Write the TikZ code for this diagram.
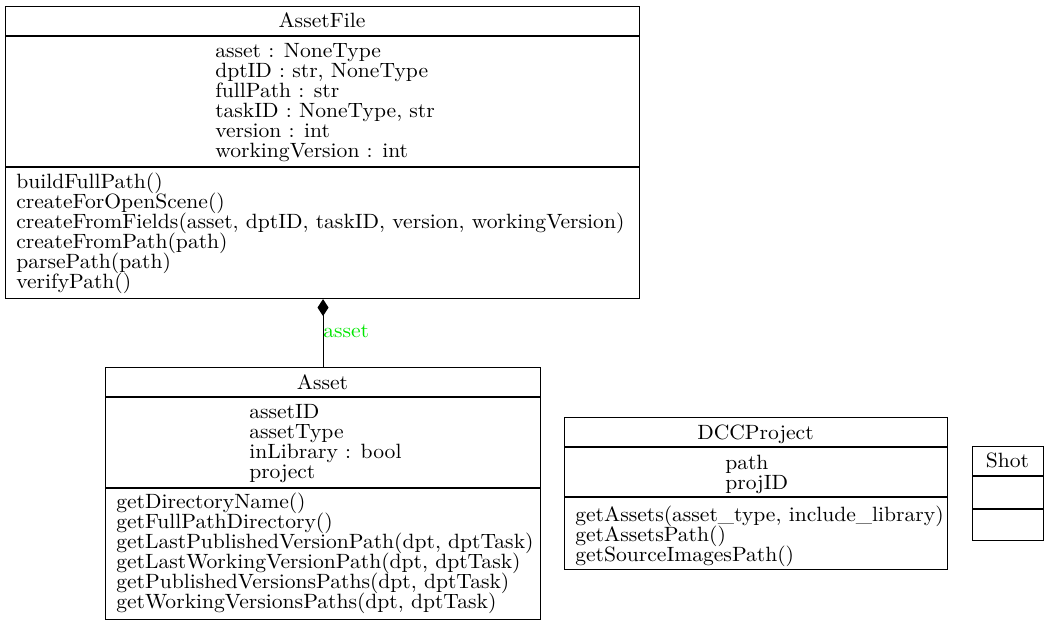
\documentclass[tikz,border=0pt]{standalone}
\usepackage{fontspec}
\usetikzlibrary{arrows.meta}
\newfontfamily\umlserif{lmroman10-regular.otf}[FakeStretch=1.045]
\definecolor{rolegreen}{RGB}{0,230,0}
\newcommand\umlsize{\umlserif\fontsize{15.5}{15}\selectfont\lineskiplimit=-20pt\relax}
\begin{document}
\begin{tikzpicture}[x=0.75pt,y=-0.75pt,
  classbox/.style={draw, line width=0.8pt, inner sep=0pt, anchor=north west},
  divider/.style={line width=0.8pt},
  umlfont/.style={font=\umlsize},
  members/.style={umlfont, inner sep=0pt, anchor=north west, align=left},
  classname/.style={umlfont, inner sep=0pt, anchor=base},
  composition/.style={-{Diamond[length=12.75pt,width=8.25pt]}, line width=0.8pt},
  rolelabel/.style={umlfont, text=rolegreen, inner sep=0pt, anchor=base west},
]
\useasboundingbox (0,0) rectangle (1049,625);

% ---- AssetFile ----
\node[classbox, minimum width=475.5pt, minimum height=219pt] (assetfile) at (5,6) {};
\draw[divider] (assetfile.west |- 0,36) -- (assetfile.east |- 0,36);
\draw[divider] (assetfile.west |- 0,167) -- (assetfile.east |- 0,167);
\node[classname] (assetfile-name) at (322,27) {AssetFile};
\node[members] (assetfile-attrs) at (215,41) {\rule{0pt}{12pt}asset : NoneType\\
dptID : str, NoneType\\
fullPath : str\\
taskID : NoneType, str\\
version : int\\
workingVersion : int};
\node[members] (assetfile-ops) at (16,172) {\rule{0pt}{12pt}buildFullPath()\\
createForOpenScene()\\
createFromFields(asset, dptID, taskID, version, workingVersion)\\
createFromPath(path)\\
parsePath(path)\\
verifyPath()};

% ---- Asset ----
\node[classbox, minimum width=326.25pt, minimum height=189pt] (asset) at (105,367) {};
\draw[divider] (asset.west |- 0,397) -- (asset.east |- 0,397);
\draw[divider] (asset.west |- 0,488) -- (asset.east |- 0,488);
\node[classname] (asset-name) at (322.5,389) {Asset};
\node[members] (asset-attrs) at (249,402) {\rule{0pt}{12pt}assetID\\
assetType\\
inLibrary : bool\\
project};
\node[members] (asset-ops) at (116,492) {\rule{0pt}{12pt}getDirectoryName()\\
getFullPathDirectory()\\
getLastPublishedVersionPath(dpt, dptTask)\\
getLastWorkingVersionPath(dpt, dptTask)\\
getPublishedVersionsPaths(dpt, dptTask)\\
getWorkingVersionsPaths(dpt, dptTask)};

% ---- DCCProject ----
\node[classbox, minimum width=287.25pt, minimum height=114pt] (dccproject) at (564,417) {};
\draw[divider] (dccproject.west |- 0,447) -- (dccproject.east |- 0,447);
\draw[divider] (dccproject.west |- 0,497) -- (dccproject.east |- 0,497);
\node[classname] (dccproject-name) at (755.5,439) {DCCProject};
\node[members] (dccproject-attrs) at (725,453) {\rule{0pt}{12pt}path\\
projID};
\node[members] (dccproject-ops) at (575,505) {\rule{0pt}{12pt}getAssets(asset\_type, include\_library)\\
getAssetsPath()\\
getSourceImagesPath()};

% ---- Shot ----
\node[classbox, minimum width=53.25pt, minimum height=70.5pt] (shot) at (972,446) {};
\draw[divider] (shot.west |- 0,476) -- (shot.east |- 0,476);
\draw[divider] (shot.west |- 0,509) -- (shot.east |- 0,509);
\node[classname] (shot-name) at (1007.5,467) {Shot};

% ---- composition: AssetFile owns Asset through its asset attribute ----
\draw[composition] (asset.north) -- (asset.north |- assetfile.south);
\node[rolelabel] (asset-role) at (323,337) {asset};
\end{tikzpicture}
\end{document}
